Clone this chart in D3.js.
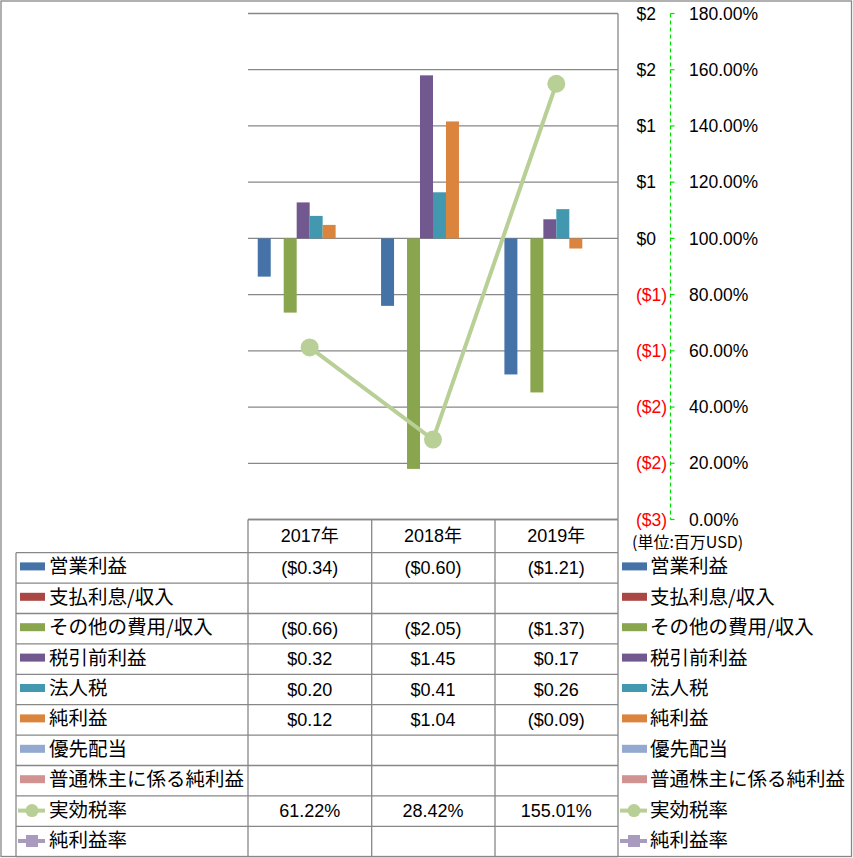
<!DOCTYPE html>
<html><head><meta charset="utf-8">
<script src="https://cdn.jsdelivr.net/npm/d3@7"></script>
<style>
html,body{margin:0;padding:0;background:#fff;}
svg{display:block;}
</style></head>
<body>
<script>
// ---- data ----
const categories = ["2017年", "2018年", "2019年"];
const barSeries = ["営業利益", "支払利息/収入", "その他の費用/収入", "税引前利益", "法人税", "純利益", "優先配当", "普通株主に係る純利益"];
const lineSeries = ["実効税率", "純利益率"];
const operatingIncome = [-0.34, -0.60, -1.21];
const interestExpense = [null, null, null];
const otherIncome = [-0.66, -2.05, -1.37];
const pretaxIncome = [0.32, 1.45, 0.17];
const incomeTax = [0.20, 0.41, 0.26];
const netIncome = [0.12, 1.04, -0.09];
const preferredDividends = [null, null, null];
const netIncomeCommon = [null, null, null];
const effectiveTaxRate = [61.22, 28.42, 155.01];
const netMargin = [null, null, null];
const leftTicks = [-2.5, -2.0, -1.5, -1.0, -0.5, 0, 0.5, 1.0, 1.5, 2.0];
const leftTickLabels = ["($3)", "($2)", "($2)", "($1)", "($1)", "$0", "$1", "$1", "$2", "$2"];
const rightTicks = [0, 20, 40, 60, 80, 100, 120, 140, 160, 180];
const unitLabel = "(単位:百万USD)";

const barValues = [operatingIncome, interestExpense, otherIncome, pretaxIncome, incomeTax, netIncome, preferredDividends, netIncomeCommon];
const lineValues = [effectiveTaxRate, netMargin];
const barColors = ["#4572A7", "#AA4643", "#89A54E", "#71588F", "#4198AF", "#DB843D", "#93A9CF", "#D19392"];
const lineColors = ["#B8CF96", "#A99BBD"];

// ---- layout ----
const W = 853, H = 858;
const plotL = 248, plotR = 618, plotT = 13.5, plotB = 519.5;
const colX = [248, 371.7, 495, 618];
const headTop = 519.5, rowTop = 552.7, rowH = 30.4;
const CJK = "'Noto Sans CJK JP', sans-serif";
const NUM = "'Liberation Sans', 'Noto Sans CJK JP', sans-serif";
const grid = "#878787";

const svg = d3.select("body").append("svg").attr("width", W).attr("height", H);

const y = d3.scaleLinear().domain([-2.5, 2.0]).range([plotB, plotT]);
const y2 = d3.scaleLinear().domain([0, 180]).range([plotB, plotT]);
const x0 = d3.scaleBand().domain(categories).range([plotL, plotR]).paddingInner(0).paddingOuter(0);
const x1 = d3.scaleBand().domain(barSeries).range([0, x0.bandwidth()]).paddingInner(0).paddingOuter(0.75);

// gridlines
svg.append("g").selectAll("line").data(leftTicks).join("line")
  .attr("x1", plotL).attr("x2", plotR)
  .attr("y1", d => y(d)).attr("y2", d => y(d))
  .attr("stroke", grid).attr("stroke-width", 1.3);
// plot right border
svg.append("line").attr("x1", plotR).attr("x2", plotR).attr("y1", plotT).attr("y2", plotB)
  .attr("stroke", grid).attr("stroke-width", 1.3);

// bars
const bars = [];
barSeries.forEach((s, si) => categories.forEach((c, ci) => {
  const v = barValues[si][ci];
  if (v != null) bars.push({s, si, c, v});
}));
svg.append("g").selectAll("rect").data(bars).join("rect")
  .attr("x", d => x0(d.c) + x1(d.s))
  .attr("width", x1.bandwidth())
  .attr("y", d => Math.min(y(d.v), y(0)))
  .attr("height", d => Math.abs(y(d.v) - y(0)))
  .attr("fill", d => barColors[d.si]);

// line series
lineSeries.forEach((s, li) => {
  const pts = categories.map((c, ci) => ({c, v: lineValues[li][ci]})).filter(d => d.v != null);
  if (!pts.length) return;
  svg.append("path").datum(pts)
    .attr("d", d3.line().x(d => x0(d.c) + x0.bandwidth() / 2).y(d => y2(d.v)))
    .attr("fill", "none").attr("stroke", lineColors[li]).attr("stroke-width", 4);
  svg.append("g").selectAll("circle").data(pts).join("circle")
    .attr("cx", d => x0(d.c) + x0.bandwidth() / 2).attr("cy", d => y2(d.v)).attr("r", 9)
    .attr("fill", lineColors[li]);
});

// secondary axis line (dashed green) with ticks
const axX = 670.5;
svg.append("line").attr("x1", axX).attr("x2", axX).attr("y1", plotT).attr("y2", plotB)
  .attr("stroke", "#00E000").attr("stroke-width", 1.2).attr("stroke-dasharray", "4,3");
svg.append("g").selectAll("line").data(rightTicks).join("line")
  .attr("x1", axX).attr("x2", axX + 4).attr("y1", d => y2(d)).attr("y2", d => y2(d))
  .attr("stroke", "#00E000").attr("stroke-width", 1.2);

// left (primary) axis labels
svg.append("g").selectAll("text").data(leftTicks).join("text")
  .attr("x", (d, i) => leftTickLabels[i].startsWith("(") ? 667 : 656)
  .attr("y", d => y(d)).attr("dy", "0.35em")
  .attr("text-anchor", "end")
  .attr("font-family", NUM).attr("font-size", 17.5)
  .attr("fill", (d, i) => leftTickLabels[i].startsWith("(") ? "#FF0000" : "#000")
  .text((d, i) => leftTickLabels[i]);

// right (secondary) axis labels
svg.append("g").selectAll("text").data(rightTicks).join("text")
  .attr("x", 689).attr("y", d => y2(d)).attr("dy", "0.35em")
  .attr("font-family", NUM).attr("font-size", 17.5).attr("fill", "#000")
  .text(d => d.toFixed(2) + "%");

// unit label
svg.append("text").attr("x", 632).attr("y", 542.5).attr("dy", "0.35em")
  .attr("font-family", CJK).attr("font-size", 16).attr("fill", "#000").text(unitLabel);

// ---- data table ----
const allSeries = barSeries.concat(lineSeries);
const nRows = allSeries.length;
const rowY = i => rowTop + i * rowH;
const tbl = svg.append("g").attr("stroke", grid).attr("stroke-width", 1.3);
// header top line
tbl.append("line").attr("x1", colX[0]).attr("x2", colX[3]).attr("y1", headTop).attr("y2", headTop);
// row lines
tbl.selectAll("line.row").data(d3.range(nRows + 1)).join("line").attr("class", "row")
  .attr("x1", 16).attr("x2", colX[3]).attr("y1", d => rowY(d)).attr("y2", d => rowY(d));
// vertical lines
tbl.append("line").attr("x1", 16).attr("x2", 16).attr("y1", rowTop).attr("y2", rowY(nRows));
tbl.selectAll("line.col").data(colX).join("line").attr("class", "col")
  .attr("x1", d => d).attr("x2", d => d).attr("y1", headTop).attr("y2", rowY(nRows));
// outer frame
svg.append("rect").attr("x", 1).attr("y", 1).attr("width", 850.5).attr("height", 855.5)
  .attr("fill", "none").attr("stroke", grid).attr("stroke-width", 1.3);

// header texts
svg.append("g").selectAll("text").data(categories).join("text")
  .attr("x", d => x0(d) + x0.bandwidth() / 2).attr("y", (headTop + rowTop) / 2).attr("dy", "0.35em")
  .attr("text-anchor", "middle").attr("font-family", NUM).attr("font-size", 18).text(d => d);

const fmtMoney = v => v < 0 ? "($" + Math.abs(v).toFixed(2) + ")" : "$" + v.toFixed(2);
const cells = [];
allSeries.forEach((s, ri) => {
  const vals = ri < barSeries.length ? barValues[ri] : lineValues[ri - barSeries.length];
  vals.forEach((v, ci) => {
    if (v == null) return;
    cells.push({ri, ci, t: ri < barSeries.length ? fmtMoney(v) : v.toFixed(2) + "%"});
  });
});
svg.append("g").selectAll("text").data(cells).join("text")
  .attr("x", d => x0(categories[d.ci]) + x0.bandwidth() / 2)
  .attr("y", d => rowY(d.ri) + rowH / 2).attr("dy", "0.35em")
  .attr("text-anchor", "middle").attr("font-family", NUM).attr("font-size", 18).text(d => d.t);

// legend keys (left in table and right side)
function legend(keyX, textX) {
  const g = svg.append("g");
  allSeries.forEach((s, i) => {
    const cy = rowY(i) + rowH / 2 - 1.5;
    if (i < barSeries.length) {
      g.append("rect").attr("x", keyX).attr("y", cy - 4).attr("width", 25).attr("height", 8)
        .attr("fill", barColors[i]);
    } else {
      const c = lineColors[i - barSeries.length];
      g.append("line").attr("x1", keyX - 2).attr("x2", keyX + 25).attr("y1", cy + 1).attr("y2", cy + 1)
        .attr("stroke", c).attr("stroke-width", 4);
      if (i === barSeries.length) {
        g.append("circle").attr("cx", keyX + 12).attr("cy", cy + 1).attr("r", 6.5).attr("fill", c);
      } else {
        g.append("rect").attr("x", keyX + 6).attr("y", cy - 5).attr("width", 12).attr("height", 12).attr("fill", c);
      }
    }
    g.append("text").attr("x", textX).attr("y", cy).attr("dy", "0.36em")
      .attr("font-family", CJK).attr("font-size", 19.5).attr("fill", "#000").text(s);
  });
}
legend(20, 49);
legend(622, 650);
</script>
</body></html>
